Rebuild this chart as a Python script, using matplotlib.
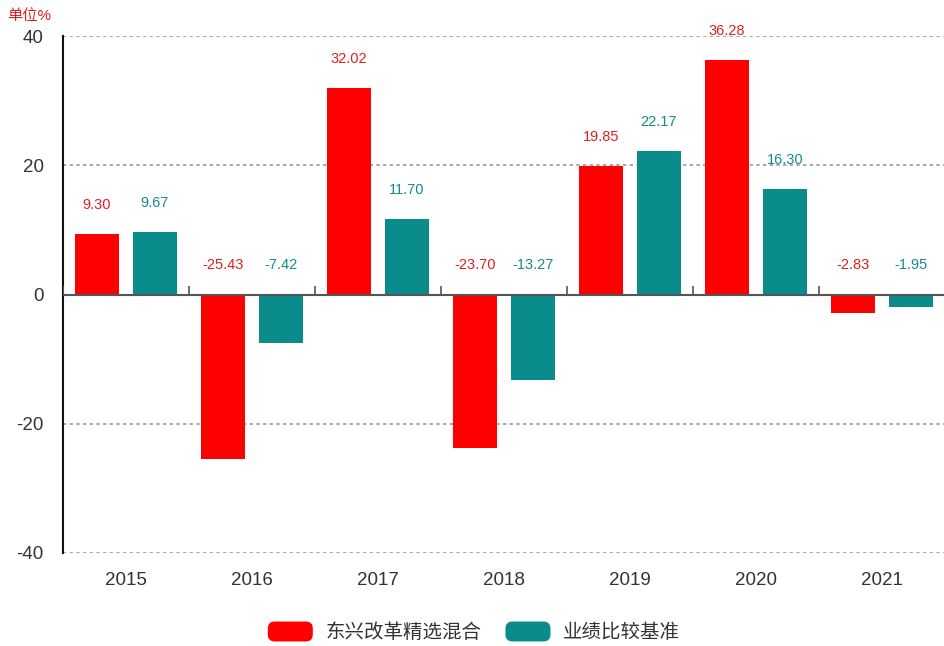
import numpy as np
import matplotlib.pyplot as plt
from matplotlib.patches import FancyBboxPatch, Patch
from matplotlib.legend_handler import HandlerPatch

plt.rcParams['font.family'] = ['Liberation Sans', 'Noto Sans CJK SC', 'DejaVu Sans']

years = ["2015", "2016", "2017", "2018", "2019", "2020", "2021"]
fund = [9.30, -25.43, 32.02, -23.70, 19.85, 36.28, -2.83]
bench = [9.67, -7.42, 11.70, -13.27, 22.17, 16.30, -1.95]
names = ["东兴改革精选混合", "业绩比较基准"]

red = "#ff0000"
teal = "#0a8c8c"

fig = plt.figure(figsize=(9.45, 6.46), dpi=100)
ax = fig.add_axes([0.0667, 0.144, 0.933, 0.80])

x = np.arange(len(years))
w = 0.35
off = 0.23
ax.bar(x - off, fund, w, color=red, zorder=3)
ax.bar(x + off, bench, w, color=teal, zorder=3)

for xi, v in zip(x - off, fund):
    ax.annotate(f"{v:.2f}", (xi, max(v, 0)), xytext=(0, 21), textcoords="offset points",
                ha="center", va="center", color="#e02020", fontsize=10.5, zorder=4)
for xi, v in zip(x + off, bench):
    ax.annotate(f"{v:.2f}", (xi, max(v, 0)), xytext=(0, 21), textcoords="offset points",
                ha="center", va="center", color="#148c8c", fontsize=10.5, zorder=4)

ax.set_xlim(-0.5, len(years) - 0.5)
ax.set_ylim(-40, 40)
ax.set_yticks([-40, -20, 0, 20, 40])
ax.set_yticklabels(["-40", "-20", "0", "20", "40"])
for g in [-40, -20, 20, 40]:
    ax.axhline(g, color="#999999", linestyle=(0, (2, 2)), linewidth=1.2, zorder=1)
ax.axhline(0, color="#555555", linewidth=1.5, zorder=4)
ax.vlines(np.arange(len(years) + 1) - 0.5, 0, 1.3, color="#555555", linewidth=1.2, zorder=4)

ax.set_xticks(x)
ax.set_xticklabels(years)
ax.tick_params(axis="both", length=0, labelsize=13.5, labelcolor="#333333")
ax.tick_params(axis="x", pad=14)
ax.tick_params(axis="y", pad=14)

for s in ["top", "right", "bottom"]:
    ax.spines[s].set_visible(False)
ax.spines["left"].set_color("#111111")
ax.spines["left"].set_linewidth(1.5)

fig.text(0.008, 0.975, "单位%", color="#e02020", fontsize=11, ha="left", va="center")


class RoundHandler(HandlerPatch):
    def create_artists(self, legend, orig_handle, xdescent, ydescent, width, height, fontsize, trans):
        p = FancyBboxPatch((-xdescent + 2, -ydescent), width - 4, height,
                           boxstyle="round,pad=0,rounding_size=5",
                           facecolor=orig_handle.get_facecolor(), edgecolor="none", transform=trans)
        return [p]


handles = [Patch(facecolor=red), Patch(facecolor=teal)]
leg = fig.legend(handles, names, loc="center", bbox_to_anchor=(0.5, 0.022), ncol=2, frameon=False,
                 fontsize=14, handlelength=2.6, handleheight=1.2, columnspacing=1.1, handletextpad=0.5,
                 handler_map={Patch: RoundHandler()})
for t in leg.get_texts():
    t.set_color("#333333")

fig.savefig("out.png", dpi=100)
